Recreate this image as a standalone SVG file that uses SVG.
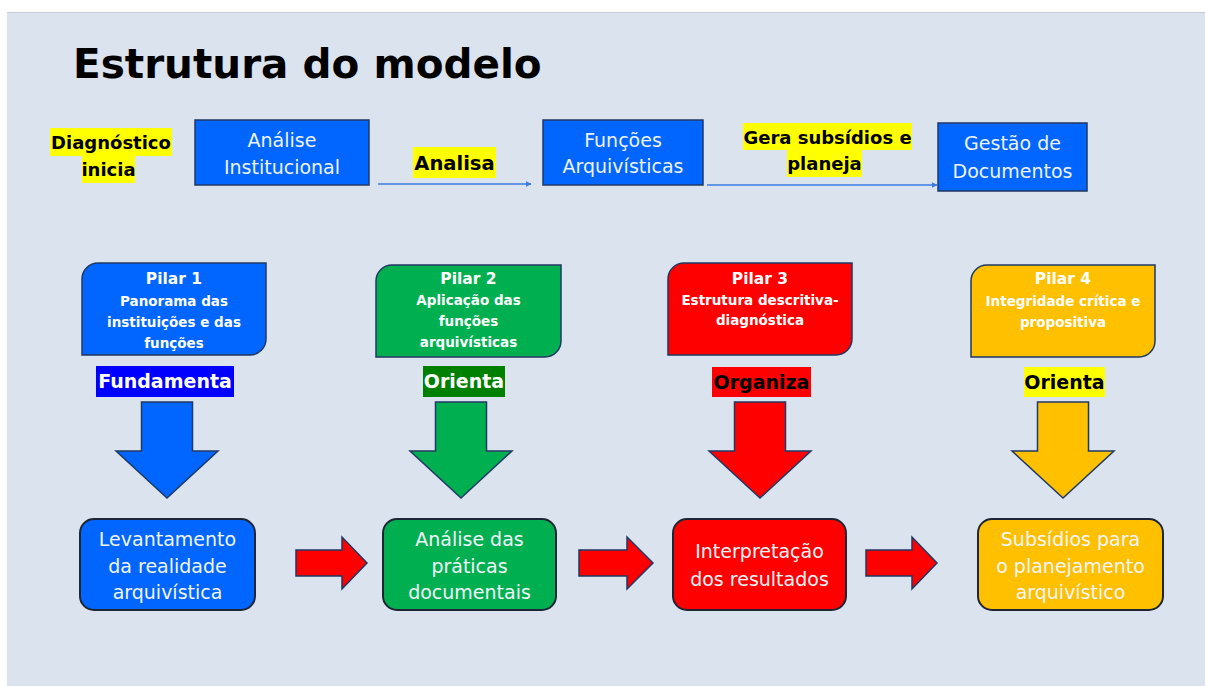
<svg xmlns="http://www.w3.org/2000/svg" width="1205" height="686" viewBox="0 0 1205 686">
<style>
  text { font-family: "DejaVu Sans", "Liberation Sans", sans-serif; }
  .title { font-size: 40.5px; font-weight: bold; fill: #000; }
  .tbox { fill: #0066FF; stroke: #1F3864; stroke-width: 1.5; }
  .tboxtxt { font-size: 19px; fill: #EEF3FB; text-anchor: middle; }
  .hl { fill: #FFFF00; }
  .lbl { font-size: 18px; font-weight: bold; fill: #000; text-anchor: middle; }
  .lblbig { font-size: 19.5px; font-weight: bold; fill: #000; text-anchor: middle; }
  .conn { stroke: #3A7BE0; stroke-width: 1.6; fill: none; }
  .pilar { stroke: #1F3864; stroke-width: 1.5; }
  .ptitle { font-size: 15.5px; font-weight: bold; fill: #fff; text-anchor: middle; }
  .psub { font-size: 13.5px; font-weight: bold; fill: #fff; text-anchor: middle; }
  .verb { font-size: 19px; font-weight: bold; text-anchor: middle; }
  .darr { stroke: #1F3864; stroke-width: 1.5; }
  .rarr { fill: #FF0000; stroke: #1F3864; stroke-width: 1.5; }
  .bbox { stroke: #1E2636; stroke-width: 2; }
  .btxt { font-size: 19px; fill: #F2F5FA; text-anchor: middle; }
</style>
<defs>
  <marker id="ah" viewBox="0 0 10 10" refX="9" refY="5" markerWidth="6" markerHeight="6" orient="auto" markerUnits="userSpaceOnUse">
    <path d="M0,0 L10,5 L0,10 Z" fill="#3A7BE0"/>
  </marker>
  <path id="downArrow" d="M-25.5,402 H25.5 V451 H51 L0,498 L-51,451 H-25.5 Z"/>
</defs>

<rect x="7" y="12" width="1198" height="674" fill="#DAE3EE"/>
<line x1="7" y1="12.5" x2="1205" y2="12.5" stroke="#C5CCD5" stroke-width="1"/>

<text class="title" x="73" y="78">Estrutura do modelo</text>

<g id="label-diagnostico">
  <rect class="hl" x="50" y="128" width="122" height="28"/>
  <rect class="hl" x="82" y="156" width="53" height="27"/>
  <text class="lbl" x="111" y="149">Diagnóstico</text>
  <text class="lbl" x="108.5" y="176">inicia</text>
</g>

<g id="node-analise-institucional">
  <rect class="tbox" x="195" y="120" width="174" height="65"/>
  <text class="tboxtxt" x="282" y="147">Análise</text>
  <text class="tboxtxt" x="282" y="174">Institucional</text>
</g>

<g id="node-funcoes-arquivisticas">
  <rect class="tbox" x="543" y="120" width="160" height="65"/>
  <text class="tboxtxt" x="623" y="147">Funções</text>
  <text class="tboxtxt" x="623" y="173">Arquivísticas</text>
</g>

<g id="node-gestao-documentos">
  <rect class="tbox" x="938" y="123" width="149" height="68"/>
  <text class="tboxtxt" x="1012.5" y="150">Gestão de</text>
  <text class="tboxtxt" x="1012.5" y="178">Documentos</text>
</g>

<g id="connectors">
  <line class="conn" x1="378" y1="184" x2="531" y2="184" marker-end="url(#ah)"/>
  <line class="conn" x1="707" y1="185" x2="937" y2="185" marker-end="url(#ah)"/>
  <g id="label-analisa">
    <rect class="hl" x="413" y="147" width="83" height="31"/>
    <text class="lblbig" x="454.5" y="170">Analisa</text>
  </g>
  <g id="label-gera">
    <rect class="hl" x="743" y="123" width="169" height="27"/>
    <rect class="hl" x="787" y="150" width="75" height="27"/>
    <text class="lbl" x="827.5" y="144">Gera subsídios e</text>
    <text class="lbl" x="824.5" y="170">planeja</text>
  </g>
  <g id="down-arrows">
    <use href="#downArrow" class="darr" fill="#0066FF" transform="translate(167,0)"/>
    <use href="#downArrow" class="darr" fill="#00B050" transform="translate(461,0)"/>
    <use href="#downArrow" class="darr" fill="#FF0000" transform="translate(760,0)"/>
    <use href="#downArrow" class="darr" fill="#FFC000" transform="translate(1063,0)"/>
  </g>
  <g id="right-arrows">
    <polygon class="rarr" points="296,550 342,550 342,537 367,563 342,589 342,576 296,576"/>
    <polygon class="rarr" points="579,550 627,550 627,537 653,563 627,589 627,576 579,576"/>
    <polygon class="rarr" points="866,550 912,550 912,537 937,563 912,589 912,576 866,576"/>
  </g>
</g>

<g id="pilar-1">
  <path class="pilar" fill="#0066FF" d="M98,263 H266 V339 A16,16 0 0 1 250,355 H82 V279 A16,16 0 0 1 98,263 Z"/>
  <text class="ptitle" x="174" y="284">Pilar 1</text>
  <text class="psub" x="174" y="306">Panorama das</text>
  <text class="psub" x="174" y="327">instituições e das</text>
  <text class="psub" x="174" y="348">funções</text>
</g>
<g id="pilar-2">
  <path class="pilar" fill="#00B050" d="M392,265 H561 V341 A16,16 0 0 1 545,357 H376 V281 A16,16 0 0 1 392,265 Z"/>
  <text class="ptitle" x="468.5" y="284">Pilar 2</text>
  <text class="psub" x="468.5" y="305">Aplicação das</text>
  <text class="psub" x="468.5" y="326">funções</text>
  <text class="psub" x="468.5" y="347">arquivísticas</text>
</g>
<g id="pilar-3">
  <path class="pilar" fill="#FF0000" d="M684,263 H852 V339 A16,16 0 0 1 836,355 H668 V279 A16,16 0 0 1 684,263 Z"/>
  <text class="ptitle" x="760" y="284">Pilar 3</text>
  <text class="psub" x="760" y="305">Estrutura descritiva-</text>
  <text class="psub" x="760" y="325">diagnóstica</text>
</g>
<g id="pilar-4">
  <path class="pilar" fill="#FFC000" d="M987,265 H1155 V341 A16,16 0 0 1 1139,357 H971 V281 A16,16 0 0 1 987,265 Z"/>
  <text class="ptitle" x="1063" y="284">Pilar 4</text>
  <text class="psub" x="1063" y="306">Integridade crítica e</text>
  <text class="psub" x="1063" y="327">propositiva</text>
</g>

<g id="verb-fundamenta">
  <rect x="96" y="366" width="138" height="31" fill="#0000FF"/>
  <text class="verb" x="165" y="388" fill="#FFFFFF">Fundamenta</text>
</g>
<g id="verb-orienta-1">
  <rect x="423" y="366" width="82" height="31" fill="#008000"/>
  <text class="verb" x="464" y="388" fill="#FFFFFF">Orienta</text>
</g>
<g id="verb-organiza">
  <rect x="712" y="367" width="99" height="30" fill="#FF0000"/>
  <text class="verb" x="761.5" y="389" fill="#000000">Organiza</text>
</g>
<g id="verb-orienta-2">
  <rect x="1024" y="367" width="81" height="30" fill="#FFFF00"/>
  <text class="verb" x="1064.5" y="389" fill="#000000">Orienta</text>
</g>

<g id="node-levantamento">
  <rect class="bbox" x="80" y="519" width="175" height="91" rx="14" fill="#0066FF"/>
  <text class="btxt" x="167.5" y="546">Levantamento</text>
  <text class="btxt" x="167.5" y="573">da realidade</text>
  <text class="btxt" x="167.5" y="599">arquivística</text>
</g>
<g id="node-analise-praticas">
  <rect class="bbox" x="383" y="519" width="173" height="91" rx="14" fill="#00B050"/>
  <text class="btxt" x="469.5" y="546">Análise das</text>
  <text class="btxt" x="469.5" y="573">práticas</text>
  <text class="btxt" x="469.5" y="599">documentais</text>
</g>
<g id="node-interpretacao">
  <rect class="bbox" x="673" y="519" width="173" height="91" rx="14" fill="#FF0000" stroke="#2A3556"/>
  <text class="btxt" x="759.5" y="558">Interpretação</text>
  <text class="btxt" x="759.5" y="586">dos resultados</text>
</g>
<g id="node-subsidios">
  <rect class="bbox" x="978" y="519" width="185" height="91" rx="14" fill="#FFC000" stroke="#2A3556"/>
  <text class="btxt" x="1070.5" y="546">Subsídios para</text>
  <text class="btxt" x="1070.5" y="573">o planejamento</text>
  <text class="btxt" x="1070.5" y="599">arquivístico</text>
</g>
</svg>
